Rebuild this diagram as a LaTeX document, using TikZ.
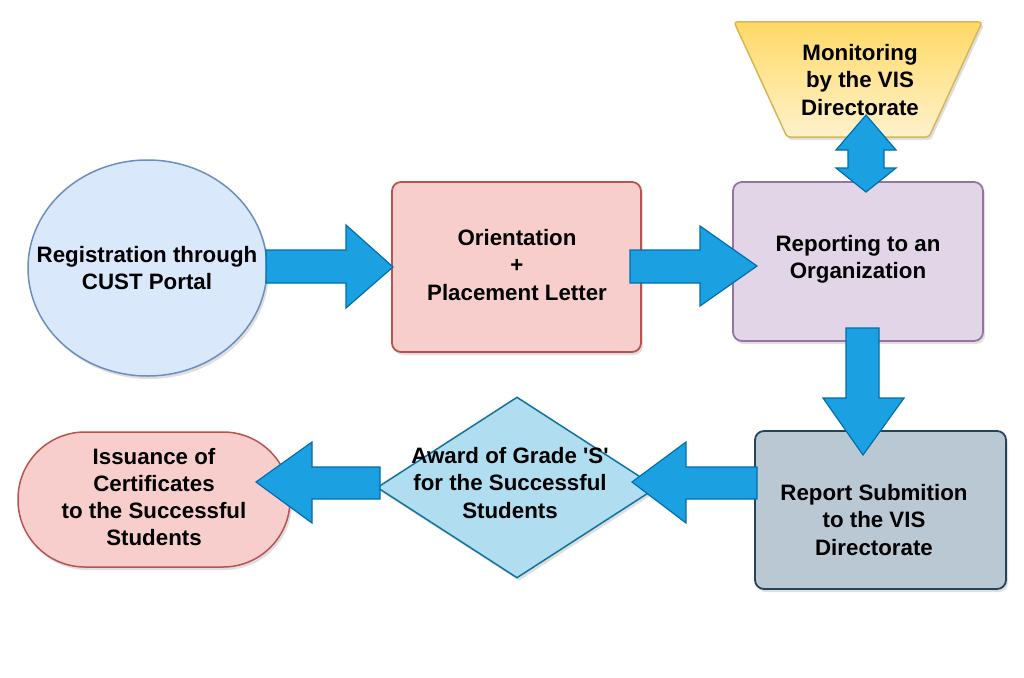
\documentclass[tikz,border=0pt]{standalone}
\usepackage{fontspec}
\setmainfont{Liberation Sans}
\usetikzlibrary{shapes.geometric,shadows}
\definecolor{blueFill}{HTML}{DAE8FC}
\definecolor{blueLine}{HTML}{6C8EBF}
\definecolor{redFill}{HTML}{F8CECC}
\definecolor{redLine}{HTML}{B85450}
\definecolor{purpFill}{HTML}{E1D5E7}
\definecolor{purpLine}{HTML}{9673A6}
\definecolor{yelTop}{HTML}{FFD966}
\definecolor{yelBot}{HTML}{FFF2CC}
\definecolor{yelLine}{HTML}{D6B656}
\definecolor{greyFill}{HTML}{BAC8D3}
\definecolor{greyLine}{HTML}{23445D}
\definecolor{cyanFill}{HTML}{B1DDF0}
\definecolor{cyanLine}{HTML}{10739E}
\definecolor{arrowFill}{HTML}{1BA1E2}
\definecolor{arrowLine}{HTML}{006EAF}
\begin{document}
\begin{tikzpicture}[x=1pt,y=-1pt,
  lbl/.style={font=\fontsize{22.3}{27.3}\selectfont\bfseries, align=center, text=black, inner sep=0pt},
  shad/.style={drop shadow={opacity=0.25, shadow xshift=2pt, shadow yshift=-3pt}},
  fat/.style={fill=arrowFill, draw=arrowLine, line width=1.2pt, line join=miter},
  box/.style={rectangle, rounded corners=9pt, line width=1.8pt, inner sep=0pt, shad}]
\useasboundingbox[fill=white] (0,0) rectangle (1024,677);

% shapes
\node[ellipse, draw=blueLine, fill=blueFill, line width=1.5pt, inner sep=0pt, shad,
      minimum width=239pt, minimum height=216pt] (reg) at (147.5,268) {};
\node[box, draw=redLine, fill=redFill, minimum width=249pt, minimum height=170pt] (ori) at (516.5,267) {};
\node[box, draw=purpLine, fill=purpFill, minimum width=250pt, minimum height=159pt] (rep) at (858,261.5) {};
\node[box, draw=greyLine, fill=greyFill, minimum width=251pt, minimum height=158pt] (sub) at (880.5,510) {};
\node[diamond, draw=cyanLine, fill=cyanFill, line width=1.5pt, inner sep=0pt, shad, aspect=1.55,
      minimum width=280pt, minimum height=181pt] (award) at (517,487.5) {};
\node[rectangle, rounded corners=67pt, draw=redLine, fill=redFill, line width=1.5pt, inner sep=0pt, shad,
      minimum width=272pt, minimum height=135pt] (iss) at (154,499.5) {};
\shade[top color=yelTop, bottom color=yelBot, draw=yelLine, line width=1.5pt, rounded corners=3pt, shad]
  (734,22) -- (982,22) -- (929,137) -- (787,137) -- cycle;
\coordinate (mon) at (858,80);

% labels
\node[lbl] (regT) at (147,268) {Registration through\\CUST Portal};
\node[lbl] (oriT) at (517,265) {Orientation\\+\\Placement Letter};
\node[lbl] (repT) at (858,259) {Reporting to an\\Organization};
\node[lbl] (monT) at (860,80) {Monitoring\\by the VIS\\Directorate};
\node[lbl] (subT) at (874,520) {Report Submition\\to the VIS\\Directorate};
\node[lbl] (awardT) at (510,483) {Award of Grade \textquotesingle S\textquotesingle\\for the Successful\\Students};
\node[lbl] (issT) at (154,497) {Issuance of\\Certificates\\to the Successful\\Students};

% block arrows
\draw[fat] (266,250) -- (346,250) -- (346,225) -- (393,267) -- (346,308) -- (346,283) -- (266,283) -- cycle;
\draw[fat] (630,250) -- (700,250) -- (700,226) -- (757,266) -- (700,306) -- (700,283) -- (630,283) -- cycle;
\draw[fat] (846,328) -- (879,328) -- (879,398) -- (904,398) -- (863,455) -- (823,398) -- (846,398) -- cycle;
\draw[fat] (757,467) -- (686,467) -- (686,442) -- (632,482) -- (686,523) -- (686,499) -- (757,499) -- cycle;
\draw[fat] (380,467) -- (312,467) -- (312,442) -- (256,482) -- (312,523) -- (312,499) -- (380,499) -- cycle;
\draw[fat] (866,115) -- (896,150) -- (884,150) -- (884,168) -- (896,168) -- (866,192)
  -- (836,168) -- (848,168) -- (848,150) -- (836,150) -- cycle;
\end{tikzpicture}
\end{document}
